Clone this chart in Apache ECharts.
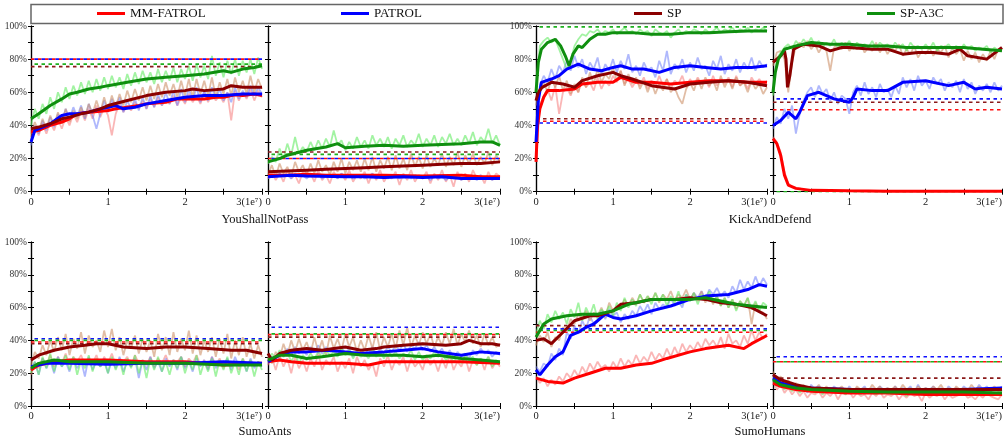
<!DOCTYPE html>
<html>
<head>
<meta charset="utf-8">
<script src="https://cdn.jsdelivr.net/npm/echarts@6/dist/echarts.min.js"></script>
<style>
html, body { margin: 0; padding: 0; background: #fff; }
#chart { width: 1005px; height: 439px; }
</style>
</head>
<body>
<div id="chart"></div>
<script>
var methods = ["MM-FATROL", "PATROL", "SP", "SP-A3C"];
var titles = ["YouShallNotPass", "KickAndDefend", "SumoAnts", "SumoHumans"];

// x of the raw (unsmoothed) curves, in 1e7 steps
var rawX = [0,0.05,0.1,0.15,0.2,0.25,0.3,0.35,0.4,0.45,
  0.5,0.55,0.6,0.65,0.7,0.75,0.8,0.85,0.9,0.95,
  1,1.05,1.1,1.15,1.2,1.25,1.3,1.35,1.4,1.45,
  1.5,1.55,1.6,1.65,1.7,1.75,1.8,1.85,1.9,1.95,
  2,2.05,2.1,2.15,2.2,2.25,2.3,2.35,2.4,2.45,
  2.5,2.55,2.6,2.65,2.7,2.75,2.8,2.85,2.9,2.95,
  3];

// dashed baselines: [MM-FATROL, PATROL, SP, SP-A3C]
var ysnpA_base = [80, 80, 75.5, 77];
var ysnpB_base = [20, 20, 24, 22.5];
var kadA_base = [42.5, 41.5, 44, 99.5];
var kadB_base = [49.5, 56, 54, 0];
var antsA_base = [39, 41, 38, 40];
var antsB_base = [43.5, 48, 42, 44];
var humA_base = [45, 47, 49, 46];
var humB_base = [27, 30, 17, 27];

// ---- YouShallNotPass, left
var ysnpA_red = [[0,36],[0.1,37],[0.25,40],[0.4,42],[0.5,44],[0.6,47],[0.75,48],[0.9,48.5],[1,49],[1.1,50],[1.25,51],[1.4,52],[1.5,53],[1.75,54],[1.9,56],[2,56],[2.25,56],[2.4,57],[2.5,57],[2.65,58.5],[2.75,58],[2.9,59],[3,58]];
var ysnpA_blue = [[0,30],[0.05,37],[0.15,39],[0.25,41],[0.4,46],[0.5,47],[0.6,47],[0.75,48],[0.9,50],[1,51],[1.1,52],[1.2,50],[1.35,51],[1.5,53],[1.75,55],[2,57],[2.25,58],[2.5,58],[2.75,59],[3,59]];
var ysnpA_sp = [[0,38],[0.1,39],[0.25,41],[0.4,44],[0.5,45],[0.65,47],[0.75,48],[0.9,50],[1,52],[1.25,55],[1.5,58],[1.75,60],[2,61],[2.1,62],[2.25,61],[2.5,62],[2.6,64],[2.75,63],[3,63]];
var ysnpA_green = [[0,44],[0.1,47],[0.25,52],[0.4,56],[0.5,59],[0.6,60],[0.75,62],[0.9,63],[1,64],[1.25,66],[1.5,68],[1.75,69],[2,70],[2.25,71],[2.5,73],[2.6,72],[2.75,74],[2.9,75],[3,76]];
var ysnpA_redRaw = [33,39,34,41,35,42,37,44,38,45,40,47,42,49,43,50,44,52,45,51,46,34,47,53,48,52,49,54,50,55,50,56,51,57,52,55,53,58,52,57,53,59,54,58,53,60,54,59,55,58,54,60,43,61,55,60,56,62,55,61,57];
var ysnpA_blueRaw = [28,40,35,43,37,45,39,47,42,50,44,51,45,52,44,53,46,38,47,55,48,56,49,57,48,55,50,56,49,57,50,58,51,59,52,60,53,61,52,62,54,62,55,63,54,61,55,63,56,62,55,60,54,63,56,61,57,64,58,63,59];
var ysnpA_spRaw = [35,42,36,44,38,46,40,48,41,50,42,49,44,51,45,53,47,55,48,57,49,58,51,59,52,61,54,62,55,63,55,64,56,65,57,66,58,65,57,67,58,68,57,68,59,67,58,69,57,66,59,68,58,69,60,67,59,70,60,68,62];
var ysnpA_greenRaw = [40,50,44,53,47,57,50,60,54,63,56,64,58,66,59,67,60,68,61,69,62,70,63,69,62,71,64,72,65,73,66,72,65,74,66,73,67,75,66,74,68,76,67,77,69,76,68,82,70,78,69,79,71,80,70,79,72,80,71,81,74];

// ---- YouShallNotPass, right
var ysnpB_red = [[0,10],[0.25,10],[0.5,10.5],[0.75,10],[1,10],[1.5,10],[2,9.5],[2.5,10],[2.75,9],[3,9]];
var ysnpB_blue = [[0,9],[0.15,9.5],[0.3,10],[0.5,9.5],[1,9],[1.25,9],[1.5,8.5],[1.75,9],[2,8.5],[2.25,9],[2.5,8],[2.75,8],[3,8]];
var ysnpB_sp = [[0,12],[0.25,12.5],[0.5,13],[0.75,13.5],[1,14],[1.25,14.5],[1.5,15],[1.75,15.5],[2,16],[2.25,16.5],[2.5,17],[2.75,17],[3,18]];
var ysnpB_green = [[0,18],[0.15,20],[0.25,22],[0.5,25],[0.75,27],[0.9,29],[1,26.5],[1.25,27.5],[1.5,28],[1.75,27.5],[2,28],[2.25,28.5],[2.5,29],[2.75,30],[2.9,30],[3,28]];
var ysnpB_redRaw = [8,12,7,11,6,13,8,10,5,12,9,11,6,13,7,10,5,12,8,11,7,13,6,10,8,12,5,11,7,13,6,10,8,12,4,11,7,13,6,10,8,12,5,11,7,13,6,10,3,12,7,11,6,13,8,10,5,12,7,11,9];
var ysnpB_blueRaw = [8,10,9,11,9,10,8,11,9,10,8,10,9,11,8,10,9,10,8,11,9,10,8,9,10,8,9,11,8,10,9,8,10,9,8,10,9,8,10,9,8,9,7,10,8,9,7,9,8,10,7,9,8,9,7,10,8,9,7,9,8];
var ysnpB_spRaw = [10,16,9,17,11,15,9,18,12,16,10,17,11,19,12,16,10,18,12,20,11,18,13,19,12,20,13,21,12,19,14,21,13,22,14,20,13,23,15,21,14,22,15,20,16,23,15,21,16,24,15,22,17,23,16,21,17,24,16,22,18];
var ysnpB_greenRaw = [17,21,18,26,20,29,22,33,23,27,24,30,25,31,26,32,27,37,28,31,25,30,26,33,27,31,26,34,28,32,27,33,26,32,28,34,27,31,28,35,27,32,28,34,27,33,29,35,28,32,28,34,29,36,28,33,30,38,29,34,28];

// ---- KickAndDefend, left
var kadA_red = [[0,18],[0.02,40],[0.05,50],[0.1,57],[0.15,61],[0.3,61],[0.5,62],[0.6,65],[0.8,66],[1,66],[1.1,69],[1.3,66],[1.5,66],[1.75,65],[2,66],[2.25,67],[2.5,67],[2.75,66],[3,66]];
var kadA_blue = [[0,30],[0.03,55],[0.07,66],[0.2,68],[0.3,70],[0.4,74],[0.55,77],[0.7,74],[0.85,73],[1,75],[1.1,76],[1.25,74],[1.4,74],[1.6,72],[1.8,75],[2,76],[2.2,75],[2.4,74],[2.6,75],[2.8,75],[3,76]];
var kadA_sp = [[0,55],[0.03,60],[0.08,63],[0.2,66],[0.35,65],[0.5,63],[0.6,67],[0.8,70],[1,72],[1.1,70],[1.25,68],[1.5,64],[1.8,62],[2,65],[2.25,66],[2.5,67],[2.75,66],[3,64]];
var kadA_green = [[0,60],[0.03,78],[0.07,86],[0.15,90],[0.25,92],[0.32,88],[0.38,82],[0.43,76],[0.48,83],[0.55,88],[0.6,87],[0.7,92],[0.8,95],[0.9,95],[1,96],[1.25,96],[1.5,95],[1.75,95],[2,96],[2.25,96],[2.5,96.5],[2.75,97],[3,97]];
var kadA_redRaw = [18,52,58,62,55,64,47,60,63,58,64,60,68,63,66,61,69,62,67,64,70,66,73,65,68,63,67,64,69,62,67,63,70,64,68,62,67,65,70,63,68,64,69,65,67,63,70,64,68,65,69,63,70,64,67,62,69,65,68,64,67];
var kadA_blueRaw = [30,64,70,66,74,68,76,72,79,73,82,75,80,71,78,74,81,70,77,73,80,72,79,74,83,72,76,70,78,73,75,69,79,73,85,71,77,74,80,72,78,73,81,74,76,70,79,74,82,71,77,73,80,72,78,74,81,73,79,75,77];
var kadA_spRaw = [52,62,66,60,68,63,70,61,67,59,65,60,69,63,72,65,74,66,71,68,75,67,73,64,71,65,69,62,67,60,66,59,65,61,68,60,63,57,53,62,66,61,68,62,69,64,67,61,70,63,68,62,69,64,66,60,67,62,65,59,63];
var kadA_greenRaw = [62,88,91,93,90,92,86,80,74,79,88,92,95,94,97,96,98,95,97,96,98,95,97,99,96,97,95,98,96,97,94,98,96,95,97,93,96,98,95,97,96,98,97,95,98,96,97,99,96,98,97,99,96,98,97,99,96,98,97,99,97];

// ---- KickAndDefend, right
var kadB_red = [[0,32],[0.05,29],[0.1,22],[0.15,10],[0.2,4],[0.3,2],[0.5,0.8],[1,0.5],[1.5,0.3],[2,0.3],[3,0.2]];
var kadB_blue = [[0,40],[0.1,43],[0.2,48],[0.3,44],[0.35,48],[0.45,58],[0.6,60],[0.8,56],[1,54],[1.05,57],[1.1,62],[1.3,61],[1.5,61],[1.7,66],[2,67],[2.3,64],[2.5,66],[2.65,62],[2.8,63],[3,62]];
var kadB_sp = [[0,78],[0.1,82],[0.15,85],[0.17,80],[0.19,63],[0.22,70],[0.27,86],[0.4,89],[0.6,88],[0.75,85],[0.9,87],[1,87],[1.3,86],[1.5,86],[1.7,83],[1.9,84],[2.1,84],[2.3,83],[2.45,86],[2.55,82],[2.8,80],[3,87]];
var kadB_green = [[0,60],[0.03,72],[0.07,80],[0.15,86],[0.3,88],[0.5,90],[0.75,89],[1,89],[1.25,88],[1.5,88],[1.75,87],[2,87],[2.25,87],[2.5,87],[2.75,86],[3,85]];
var kadB_redRaw = [33,30,24,12,5,3,2,2,1,1,1,0.5,1,0.5,0.5,1,0.5,0.5,0.5,0.5,0.5,0.3,0.5,0.3,0.5,0.3,0.3,0.5,0.3,0.3,0.3,0.3,0.5,0.3,0.3,0.3,0.3,0.3,0.3,0.3,0.3,0.3,0.3,0.3,0.3,0.3,0.3,0.3,0.3,0.3,0.3,0.3,0.3,0.3,0.3,0.3,0.3,0.3,0.3,0.3,0.3];
var kadB_blueRaw = [38,45,41,50,44,52,35,47,55,60,63,57,64,59,62,55,60,53,58,56,47,60,64,58,66,59,63,57,65,60,62,57,64,59,69,63,68,61,70,64,67,62,69,65,68,61,66,63,67,60,68,62,66,59,64,61,65,60,66,61,64];
var kadB_spRaw = [76,84,85,80,60,78,88,90,87,91,86,89,84,88,85,73,87,89,86,90,85,88,86,89,84,87,85,90,84,88,83,87,85,89,82,86,83,88,81,85,83,87,82,86,84,88,81,87,83,86,79,85,80,84,78,83,79,85,80,86,87];
var kadB_greenRaw = [58,80,84,87,89,86,91,88,92,89,93,88,91,87,90,88,92,87,90,88,91,86,90,88,89,87,91,86,90,88,89,86,90,87,89,85,90,87,88,86,89,86,90,85,88,87,89,86,88,85,89,86,88,85,87,86,88,84,87,85,86];

// ---- SumoAnts, left
var antsA_red = [[0,22],[0.1,25],[0.3,27],[0.5,28],[1,28],[1.5,27],[2,27],[2.5,25],[3,26]];
var antsA_blue = [[0,24],[0.2,26],[0.5,26],[1,25.5],[1.5,26],[2,26],[2.5,27],[3,26]];
var antsA_sp = [[0,28],[0.1,31],[0.3,34],[0.5,36],[0.7,37],[0.85,38],[1,38],[1.2,36],[1.5,35],[1.75,36],[2,36],[2.3,35],[2.6,34],[2.8,34],[3,32]];
var antsA_green = [[0,23],[0.1,26],[0.3,28],[0.5,27],[1,27],[1.5,26],[2,26],[2.5,25],[3,25]];
var antsA_redRaw = [19,26,23,29,25,31,24,30,26,32,25,30,27,31,25,29,26,31,24,30,26,32,25,29,27,30,24,31,26,28,25,30,24,29,26,31,25,28,27,30,24,29,26,31,25,28,23,30,25,29,23,28,24,27,22,29,25,28,24,27,26];
var antsA_blueRaw = [22,27,19,29,23,28,20,30,24,27,21,29,23,28,18,30,22,27,24,29,20,28,23,30,21,27,24,29,17,28,22,30,23,27,21,29,24,28,22,30,23,27,21,29,24,28,22,30,23,27,25,29,22,30,24,28,21,29,23,27,24];
var antsA_spRaw = [25,33,29,37,31,40,33,42,34,44,31,41,35,45,32,43,36,40,33,46,36,47,34,42,31,40,35,43,32,41,33,40,30,44,34,42,31,45,33,41,34,46,32,43,31,40,33,42,30,41,32,44,29,40,31,42,30,38,29,37,30];
var antsA_greenRaw = [20,27,19,30,23,32,21,29,24,31,22,30,19,28,23,31,21,29,24,27,20,30,22,28,19,29,23,31,20,28,17,29,22,30,21,27,19,28,23,30,20,28,22,31,19,27,21,29,18,28,22,30,20,27,19,29,21,28,18,27,22];

// ---- SumoAnts, right
var antsB_red = [[0,27],[0.15,28],[0.3,27],[0.5,26],[1,26],[1.3,25],[1.5,27],[2,27],[2.5,27],[3,26]];
var antsB_blue = [[0,27],[0.15,31],[0.3,33],[0.5,33],[0.75,34],[1,33],[1.2,32],[1.5,33],[1.75,34],[2,35],[2.2,33],[2.5,31],[2.75,33],[3,32]];
var antsB_sp = [[0,32],[0.05,28],[0.15,32],[0.3,34],[0.5,35],[0.7,34],[0.85,35],[1,36],[1.2,34],[1.4,35],[1.5,36],[1.75,37],[2,38],[2.3,37],[2.5,38],[2.6,40],[2.75,38],[2.9,38],[3,37]];
var antsB_green = [[0,28],[0.15,31],[0.3,31],[0.5,29],[0.7,30],[1,32],[1.25,31],[1.5,31],[1.75,31],[2,30],[2.2,31],[2.5,29],[2.75,28],[3,27]];
var antsB_redRaw = [25,30,22,31,24,29,20,30,23,28,21,29,24,32,22,28,25,30,21,27,23,29,20,30,24,28,22,26,18,29,24,31,22,28,25,30,21,29,24,27,22,30,25,28,21,29,23,31,22,27,24,30,21,28,25,29,22,30,23,27,24];
var antsB_blueRaw = [26,30,28,33,30,35,31,36,32,35,31,36,33,37,32,36,33,35,31,36,32,35,30,34,31,35,32,36,31,35,32,36,33,37,34,38,33,37,35,39,34,37,33,36,32,35,30,34,29,33,30,32,29,34,31,35,32,34,30,33,31];
var antsB_spRaw = [30,26,33,29,38,31,40,33,41,34,39,32,42,33,40,31,43,35,41,34,44,36,42,33,40,34,43,35,45,34,42,36,44,35,46,37,48,36,43,37,45,38,44,36,42,37,45,38,47,37,44,39,46,38,43,36,44,37,42,36,38];
var antsB_greenRaw = [27,32,29,34,30,33,27,32,26,31,28,32,29,33,30,34,31,33,30,35,31,34,29,33,30,32,29,34,30,33,29,34,30,33,29,32,30,34,28,33,28,31,29,33,30,32,28,31,27,30,26,31,28,30,25,29,27,30,24,28,26];

// ---- SumoHumans, left
var humA_red = [[0,17],[0.15,15],[0.35,14],[0.5,17],[0.7,20],[0.9,23],[1.1,23],[1.3,25],[1.5,26],[1.7,29],[2,33],[2.2,35],[2.5,37],[2.7,35],[2.8,38],[3,43]];
var humA_blue = [[0,22],[0.05,19],[0.15,25],[0.25,30],[0.35,33],[0.45,43],[0.55,45],[0.65,48],[0.75,50],[0.9,56],[1,54],[1.1,53],[1.3,55],[1.5,58],[1.75,61],[2,65],[2.2,67],[2.5,68],[2.75,71],[2.9,74],[3,73]];
var humA_sp = [[0,40],[0.1,41],[0.2,38],[0.35,45],[0.5,52],[0.7,55],[0.8,55],[1,58],[1.1,62],[1.3,63],[1.5,65],[1.8,65],[2,66],[2.2,65],[2.4,63],[2.6,62],[2.8,60],[3,55]];
var humA_green = [[0,42],[0.1,50],[0.2,53],[0.4,55],[0.6,56],[0.8,56],[1,58],[1.2,62],[1.5,65],[1.8,65],[2,65],[2.2,66],[2.4,64],[2.6,62],[2.8,61],[3,60]];
var humA_redRaw = [18,14,17,12,16,13,18,15,20,17,22,18,24,20,26,22,27,23,25,21,27,23,29,24,28,25,31,26,30,27,33,28,32,29,35,30,36,31,38,33,37,34,39,35,41,37,40,36,42,35,44,38,40,36,43,38,46,40,45,41,44];
var humA_blueRaw = [24,21,26,24,32,28,35,31,45,41,49,44,52,47,55,50,52,58,53,59,55,57,51,56,53,58,55,61,57,62,56,63,59,62,60,66,61,64,60,68,64,69,66,70,65,71,68,72,67,70,66,73,69,77,71,76,72,79,73,78,74];
var humA_spRaw = [37,43,39,45,36,42,40,48,46,53,50,56,53,58,52,57,55,60,54,63,58,61,60,65,61,66,62,68,63,67,64,69,63,68,65,70,64,68,66,71,65,69,64,70,63,68,62,67,61,66,60,65,59,64,61,66,50,63,58,57,53];
var humA_greenRaw = [44,52,47,56,51,58,53,57,50,59,54,63,52,60,55,62,53,59,56,61,55,63,58,66,60,65,61,68,63,67,62,69,64,68,61,67,63,70,62,68,64,69,62,68,65,70,63,67,61,66,60,65,58,64,61,66,59,64,58,63,61];

// ---- SumoHumans, right
var humB_red = [[0,14],[0.1,12],[0.3,10],[0.5,9],[1,8],[1.5,8],[2,7],[2.5,7],[3,7]];
var humB_blue = [[0,17],[0.1,14],[0.3,12],[0.5,11],[1,10],[1.5,10],[2,10],[2.5,10],[3,11]];
var humB_sp = [[0,19],[0.1,16],[0.3,13],[0.5,11],[1,10],[1.5,10],[2,10],[2.5,10],[3,10]];
var humB_green = [[0,16],[0.1,13],[0.3,11],[0.5,10],[1,9],[1.5,8.5],[2,8.5],[2.5,8.5],[3,8]];
var humB_redRaw = [15,10,13,8,11,7,10,6,9,5,8,7,9,5,8,6,9,4,8,7,9,5,8,6,7,4,8,6,9,5,7,6,8,4,7,5,8,6,7,3,8,5,7,6,8,4,7,5,6,7,8,5,6,4,7,5,8,6,5,4,7];
var humB_blueRaw = [19,13,16,11,14,10,13,9,12,8,13,10,12,8,11,9,12,10,11,8,12,9,11,10,12,8,11,9,12,10,11,8,12,9,11,10,12,8,13,9,11,10,12,9,11,8,12,10,11,9,12,10,11,9,13,10,12,9,11,10,12];
var humB_spRaw = [21,16,18,13,16,11,14,10,13,9,12,10,13,9,12,8,11,10,12,9,11,8,12,10,11,9,13,10,12,8,11,10,12,9,13,10,11,8,12,10,11,9,12,10,13,9,11,8,12,10,11,9,13,10,12,8,11,10,12,9,10];
var humB_greenRaw = [17,12,15,10,13,9,12,8,11,9,10,8,11,7,10,9,11,8,10,7,10,8,9,7,10,8,9,7,10,8,9,7,10,8,9,6,10,8,9,7,10,8,9,7,10,8,9,7,8,10,9,7,8,10,9,7,8,9,7,8,9];

var panels = [
  { smooth: [ysnpA_red, ysnpA_blue, ysnpA_sp, ysnpA_green], raw: [ysnpA_redRaw, ysnpA_blueRaw, ysnpA_spRaw, ysnpA_greenRaw], base: ysnpA_base },
  { smooth: [ysnpB_red, ysnpB_blue, ysnpB_sp, ysnpB_green], raw: [ysnpB_redRaw, ysnpB_blueRaw, ysnpB_spRaw, ysnpB_greenRaw], base: ysnpB_base },
  { smooth: [kadA_red, kadA_blue, kadA_sp, kadA_green], raw: [kadA_redRaw, kadA_blueRaw, kadA_spRaw, kadA_greenRaw], base: kadA_base },
  { smooth: [kadB_red, kadB_blue, kadB_sp, kadB_green], raw: [kadB_redRaw, kadB_blueRaw, kadB_spRaw, kadB_greenRaw], base: kadB_base },
  { smooth: [antsA_red, antsA_blue, antsA_sp, antsA_green], raw: [antsA_redRaw, antsA_blueRaw, antsA_spRaw, antsA_greenRaw], base: antsA_base },
  { smooth: [antsB_red, antsB_blue, antsB_sp, antsB_green], raw: [antsB_redRaw, antsB_blueRaw, antsB_spRaw, antsB_greenRaw], base: antsB_base },
  { smooth: [humA_red, humA_blue, humA_sp, humA_green], raw: [humA_redRaw, humA_blueRaw, humA_spRaw, humA_greenRaw], base: humA_base },
  { smooth: [humB_red, humB_blue, humB_sp, humB_green], raw: [humB_redRaw, humB_blueRaw, humB_spRaw, humB_greenRaw], base: humB_base }
];

var lineColors = ["#ff0000", "#0000ff", "#8b0000", "#0f8f0f"];
var rawColors = ["rgba(245,110,110,0.5)", "rgba(110,125,250,0.55)", "rgba(205,145,105,0.6)", "rgba(100,235,100,0.6)"];
var dashColors = ["#ff1010", "#1010ff", "#8b1a1a", "#1fb01f"];
var serif = "Liberation Serif, Times New Roman, serif";

// left, top, width, height for each panel
var boxes = [
  [31, 26, 231, 165.7], [268, 26, 232, 165.7], [536, 26, 231, 165.7], [773, 26, 231, 165.7],
  [31, 242, 231, 164], [268, 242, 232, 164], [536, 242, 231, 164], [773, 242, 231, 164]
];

var grids = [], xAxes = [], yAxes = [], series = [];
var tickStyle = { inside: true, length: 3, lineStyle: { color: "#000", width: 1 } };
var lineStyleAxis = { lineStyle: { color: "#000", width: 1.2 } };

boxes.forEach(function (b, i) {
  grids.push({ left: b[0], top: b[1], width: b[2], height: b[3] });
  xAxes.push({
    gridIndex: i, type: "value", min: 0, max: 3, interval: 0.5,
    axisLine: lineStyleAxis, axisTick: tickStyle, splitLine: { show: false },
    axisLabel: {
      fontFamily: serif, fontSize: 10.5, color: "#222", margin: 5,
      showMaxLabel: true, alignMaxLabel: "right",
      formatter: function (v) {
        if (v === 3) return "3(1e\u2077)";
        return v % 1 === 0 ? String(v) : "";
      }
    }
  });
  xAxes.push({
    gridIndex: i, type: "value", position: "top", min: 0, max: 3, interval: 0.5,
    axisLine: lineStyleAxis, axisTick: tickStyle, splitLine: { show: false },
    axisLabel: { show: false }
  });
  yAxes.push({
    gridIndex: i, type: "value", min: 0, max: 100, interval: 10,
    axisLine: lineStyleAxis, axisTick: tickStyle, splitLine: { show: false },
    axisLabel: {
      show: i % 2 === 0, fontFamily: serif, fontSize: 9.5, color: "#333", margin: 4,
      formatter: function (v) { return v % 20 === 0 ? v + "%" : ""; }
    }
  });
  yAxes.push({
    gridIndex: i, type: "value", position: "right", min: 0, max: 100, interval: 10,
    axisLine: lineStyleAxis, axisTick: tickStyle, splitLine: { show: false },
    axisLabel: { show: false }
  });

  var p = panels[i];
  for (var m = 0; m < 4; m++) {
    var raw = p.raw[m];
    series.push({
      name: methods[m] + " raw", type: "line", xAxisIndex: 2 * i, yAxisIndex: 2 * i,
      data: rawX.map(function (x, k) { return [x, raw[k]]; }),
      symbol: "none", silent: true, z: 1,
      lineStyle: { color: rawColors[m], width: 1.8 }
    });
  }
  for (var m = 0; m < 4; m++) {
    series.push({
      name: methods[m] + " baseline", type: "line", xAxisIndex: 2 * i, yAxisIndex: 2 * i,
      data: [[0, p.base[m]], [3, p.base[m]]],
      symbol: "none", silent: true, z: 2,
      lineStyle: { color: dashColors[m], width: 1.6, type: [3.5, 3.5], dashOffset: m % 2 ? 3.5 : 0 }
    });
  }
  for (var m = 0; m < 4; m++) {
    series.push({
      name: methods[m], type: "line", xAxisIndex: 2 * i, yAxisIndex: 2 * i,
      data: p.smooth[m], symbol: "none", z: 3,
      color: lineColors[m],
      lineStyle: { color: lineColors[m], width: 3 }
    });
  }
});

var legendLeft = [97, 341, 634, 867];
var legends = methods.map(function (name, m) {
  return {
    data: [name], left: legendLeft[m], top: 7, padding: 0,
    icon: "rect", itemWidth: 28, itemHeight: 3, selectedMode: false,
    textStyle: { fontFamily: serif, fontSize: 13, color: "#111" }
  };
});

var titleX = [265, 770, 265, 770];
var titleY = [213, 213, 425, 425];
var titleList = titles.map(function (t, k) {
  return {
    text: t, left: titleX[k], top: titleY[k], textAlign: "center", padding: 0,
    textStyle: { fontFamily: serif, fontSize: 12.5, fontWeight: "normal", color: "#111" }
  };
});

var chart = echarts.init(document.getElementById("chart"));
chart.setOption({
  animation: false,
  title: titleList,
  legend: legends,
  grid: grids,
  xAxis: xAxes,
  yAxis: yAxes,
  series: series,
  graphic: [{
    type: "rect", shape: { x: 31, y: 4.5, width: 972, height: 19 },
    style: { fill: "none", stroke: "#666", lineWidth: 1.5 }, silent: true
  }]
});
</script>
</body>
</html>
